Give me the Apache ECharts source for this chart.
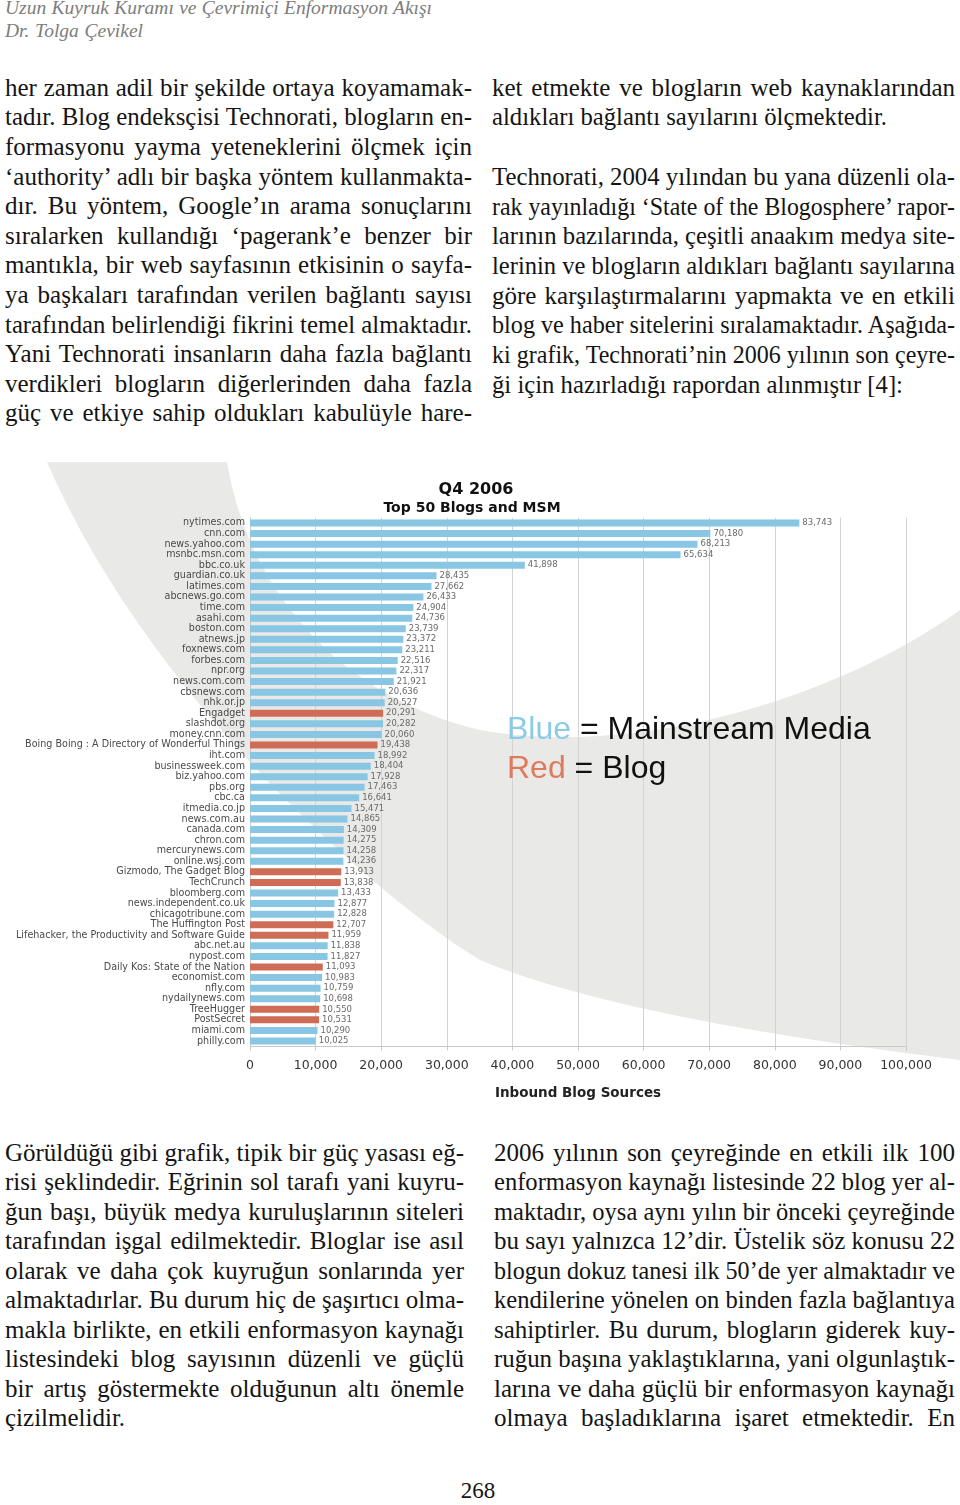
<!DOCTYPE html>
<html>
<head>
<meta charset="utf-8">
<script src="https://cdn.jsdelivr.net/npm/echarts@6/dist/echarts.min.js"></script>
<style>
  html, body { margin: 0; padding: 0; background: #fff; }
  body { width: 960px; height: 1505px; position: relative; overflow: hidden; }
  .ln { position: absolute; white-space: nowrap; display: inline-block; transform-origin: 0 0;
        font-family: "Liberation Serif", "Times New Roman", serif; color: #141414; }
  #chart { position: absolute; left: 0; top: 455px; width: 960px; height: 660px; }
</style>
</head>
<body>
<div id="chart"></div>
<script>
// ---------------- chart data ----------------
const categories = [
  "nytimes.com", "cnn.com", "news.yahoo.com", "msnbc.msn.com", "bbc.co.uk",
  "guardian.co.uk", "latimes.com", "abcnews.go.com", "time.com", "asahi.com",
  "boston.com", "atnews.jp", "foxnews.com", "forbes.com", "npr.org",
  "news.com.com", "cbsnews.com", "nhk.or.jp", "Engadget", "slashdot.org",
  "money.cnn.com", "Boing Boing : A Directory of Wonderful Things", "iht.com", "businessweek.com", "biz.yahoo.com",
  "pbs.org", "cbc.ca", "itmedia.co.jp", "news.com.au", "canada.com",
  "chron.com", "mercurynews.com", "online.wsj.com", "Gizmodo, The Gadget Blog", "TechCrunch",
  "bloomberg.com", "news.independent.co.uk", "chicagotribune.com", "The Huffington Post", "Lifehacker, the Productivity and Software Guide",
  "abc.net.au", "nypost.com", "Daily Kos: State of the Nation", "economist.com", "nfly.com",
  "nydailynews.com", "TreeHugger", "PostSecret", "miami.com", "philly.com"
];
const values = [
  83743, 70180, 68213, 65634, 41898,
  28435, 27662, 26433, 24904, 24736,
  23739, 23372, 23211, 22516, 22317,
  21921, 20636, 20527, 20291, 20282,
  20060, 19438, 18992, 18404, 17928,
  17463, 16641, 15471, 14865, 14309,
  14275, 14258, 14236, 13913, 13838,
  13433, 12877, 12828, 12707, 11959,
  11838, 11827, 11093, 10983, 10759,
  10698, 10550, 10531, 10290, 10025
];
const kinds = [
  "MSM","MSM","MSM","MSM","MSM",
  "MSM","MSM","MSM","MSM","MSM",
  "MSM","MSM","MSM","MSM","MSM",
  "MSM","MSM","MSM","Blog","MSM",
  "MSM","Blog","MSM","MSM","MSM",
  "MSM","MSM","MSM","MSM","MSM",
  "MSM","MSM","MSM","Blog","Blog",
  "MSM","MSM","MSM","Blog","Blog",
  "MSM","MSM","Blog","MSM","MSM",
  "MSM","Blog","Blog","MSM","MSM"
];
const xTicks = [0, 10000, 20000, 30000, 40000, 50000, 60000, 70000, 80000, 90000, 100000];
const chartTitle = "Q4 2006";
const chartSubtitle = "Top 50 Blogs and MSM";
const xAxisTitle = "Inbound Blog Sources";
const legendBlue = ["Blue", " = Mainstream Media"];
const legendRed = ["Red", " = Blog"];

// ---------------- page text ----------------
const headerLines = ["Uzun Kuyruk Kuramı ve Çevrimiçi Enformasyon Akışı", "Dr. Tolga Çevikel"];
const topLeft = [
  "her zaman adil bir şekilde ortaya koyamamak-",
  "tadır. Blog endeksçisi Technorati, blogların en-",
  "formasyonu yayma yeteneklerini ölçmek için",
  "‘authority’ adlı bir başka yöntem kullanmakta-",
  "dır. Bu yöntem, Google’ın arama sonuçlarını",
  "sıralarken kullandığı ‘pagerank’e benzer bir",
  "mantıkla, bir web sayfasının etkisinin o sayfa-",
  "ya başkaları tarafından verilen bağlantı sayısı",
  "tarafından belirlendiği fikrini temel almaktadır.",
  "Yani Technorati insanların daha fazla bağlantı",
  "verdikleri blogların diğerlerinden daha fazla",
  "güç ve etkiye sahip oldukları kabulüyle hare-"
];
const topRight = [
  "ket etmekte ve blogların web kaynaklarından",
  "aldıkları bağlantı sayılarını ölçmektedir.",
  "",
  "Technorati, 2004 yılından bu yana düzenli ola-",
  "rak yayınladığı ‘State of the Blogosphere’ rapor-",
  "larının bazılarında, çeşitli anaakım medya site-",
  "lerinin ve blogların aldıkları bağlantı sayılarına",
  "göre karşılaştırmalarını yapmakta ve en etkili",
  "blog ve haber sitelerini sıralamaktadır. Aşağıda-",
  "ki grafik, Technorati’nin 2006 yılının son çeyre-",
  "ği için hazırladığı rapordan alınmıştır [4]:"
];
const topRightEnds = [955, 887, 0, 955, 955, 955, 955, 955, 955, 955, 903];
const bottomLeft = [
  "Görüldüğü gibi grafik, tipik bir güç yasası eğ-",
  "risi şeklindedir. Eğrinin sol tarafı yani kuyru-",
  "ğun başı, büyük medya kuruluşlarının siteleri",
  "tarafından işgal edilmektedir. Bloglar ise asıl",
  "olarak ve daha çok kuyruğun sonlarında yer",
  "almaktadırlar. Bu durum hiç de şaşırtıcı olma-",
  "makla birlikte, en etkili enformasyon kaynağı",
  "listesindeki blog sayısının düzenli ve güçlü",
  "bir artış göstermekte olduğunun altı önemle",
  "çizilmelidir."
];
const bottomRight = [
  "2006 yılının son çeyreğinde en etkili ilk 100",
  "enformasyon kaynağı listesinde 22 blog yer al-",
  "maktadır, oysa aynı yılın bir önceki çeyreğinde",
  "bu sayı yalnızca 12’dir. Üstelik söz konusu 22",
  "blogun dokuz tanesi ilk 50’de yer almaktadır ve",
  "kendilerine yönelen on binden fazla bağlantıya",
  "sahiptirler. Bu durum, blogların giderek kuy-",
  "ruğun başına yaklaştıklarına, yani olgunlaştık-",
  "larına ve daha güçlü bir enformasyon kaynağı",
  "olmaya başladıklarına işaret etmektedir. En"
];
const pageNumber = "268";

function placeLine(text, x0, x1, yc, size, opts) {
  opts = opts || {};
  const d = document.createElement('div');
  d.className = 'ln';
  d.textContent = text;
  d.style.fontSize = size + 'px';
  d.style.lineHeight = size + 'px';
  if (opts.italic) d.style.fontStyle = 'italic';
  if (opts.color) d.style.color = opts.color;
  d.style.top = (yc - 0.61 * size) + 'px';
  d.style.left = x0 + 'px';
  document.body.appendChild(d);
  const w = d.getBoundingClientRect().width;
  if (opts.center) {
    d.style.left = (opts.center - w / 2) + 'px';
    return;
  }
  if (x1 == null) return;
  const W = x1 - x0;
  const spaces = (text.match(/ /g) || []).length;
  if (w > W || spaces === 0) {
    d.style.transform = 'scaleX(' + (W / w) + ')';
  } else {
    d.style.wordSpacing = ((W - w) / spaces) + 'px';
  }
}

const BODY = 25;
placeLine(headerLines[0], 5, 432, 10, 19.5, { italic: true, color: '#7d7d7d' });
placeLine(headerLines[1], 5, 143, 33, 19.5, { italic: true, color: '#7d7d7d' });
topLeft.forEach((t, i) => placeLine(t, 5, 472, 90 + i * 29.6, BODY));
topRight.forEach((t, i) => { if (t) placeLine(t, 492, topRightEnds[i], 90 + i * 29.7, BODY); });
bottomLeft.forEach((t, i) => {
  if (i === bottomLeft.length - 1) placeLine(t, 5, null, 1155 + i * 29.5, BODY);
  else placeLine(t, 5, 464, 1155 + i * 29.5, BODY);
});
bottomRight.forEach((t, i) => placeLine(t, 494, 955, 1155 + i * 29.5, BODY));
placeLine(pageNumber, 0, null, 1493, 23, { center: 478 });

// ---------------- background swoosh (decoration) ----------------
function bez(p0, p1, p2, p3, n) {
  const out = [];
  for (let i = 0; i <= n; i++) {
    const t = i / n, u = 1 - t;
    out.push([
      u*u*u*p0[0] + 3*u*u*t*p1[0] + 3*u*t*t*p2[0] + t*t*t*p3[0],
      u*u*u*p0[1] + 3*u*u*t*p1[1] + 3*u*t*t*p2[1] + t*t*t*p3[1]
    ]);
  }
  return out;
}
const OY = 455;
const P = (x, y) => [x, y - OY];
let swoosh = [P(47, 462)];
swoosh = swoosh.concat(bez(P(227, 462), P(250, 600), P(350, 700), P(480, 730), 30));
swoosh = swoosh.concat(bez(P(480, 730), P(650, 760), P(850, 690), P(960, 610), 30));
swoosh = swoosh.concat(bez(P(960, 1060), P(800, 1040), P(600, 1010), P(480, 960), 30));
swoosh = swoosh.concat(bez(P(480, 960), P(380, 900), P(150, 700), P(47, 462), 30));

// ---------------- chart ----------------
const BLUE = '#88c6e4';
const RED = '#cf6c56';
const fmt = v => Number(v).toLocaleString('en-US');

const chart = echarts.init(document.getElementById('chart'), null, { renderer: 'canvas' });
chart.setOption({
  backgroundColor: '#ffffff',
  animation: false,
  grid: { left: 250, right: 54, top: 62.7, bottom: 68.7, containLabel: false },
  xAxis: {
    type: 'value',
    min: xTicks[0],
    max: xTicks[xTicks.length - 1],
    interval: xTicks[1] - xTicks[0],
    axisLine: { show: true, lineStyle: { color: '#c8c8c8' } },
    axisTick: { show: true, length: 4, lineStyle: { color: '#c8c8c8' } },
    splitLine: { show: true, lineStyle: { color: '#d3d3d3', width: 1 } },
    axisLabel: { formatter: fmt, fontFamily: 'DejaVu Sans', fontSize: 12.5, color: '#333', margin: 13 },
    name: xAxisTitle,
    nameLocation: 'middle',
    nameGap: 40,
    nameTextStyle: { fontFamily: 'DejaVu Sans', fontWeight: 'bold', fontSize: 13.5, color: '#222' }
  },
  yAxis: {
    type: 'category',
    inverse: true,
    data: categories,
    axisLine: { show: true, lineStyle: { color: '#c8c8c8' } },
    axisTick: { show: false },
    axisLabel: { fontFamily: 'DejaVu Sans', fontSize: 9.6, color: '#4a4a4a', margin: 5, interval: 0 }
  },
  series: [{
    type: 'bar',
    data: values,
    barWidth: 7,
    itemStyle: { color: p => kinds[p.dataIndex] === 'Blog' ? RED : BLUE },
    label: {
      show: true, position: 'right', distance: 3,
      formatter: p => fmt(p.value),
      fontFamily: 'DejaVu Sans', fontSize: 8.5, color: '#6a6a6a'
    },
    z: 5
  }],
  graphic: [
    { type: 'polygon', z: -10, silent: true, shape: { points: swoosh }, style: { fill: '#e9e9e7' } },
    { type: 'text', z: 10, x: 476, y: 490 - OY,
      style: { text: chartTitle, font: 'bold 16px "DejaVu Sans"', fill: '#111', align: 'center', verticalAlign: 'middle' } },
    { type: 'text', z: 10, x: 472, y: 508 - OY,
      style: { text: chartSubtitle, font: 'bold 14px "DejaVu Sans"', fill: '#111', align: 'center', verticalAlign: 'middle' } },
    { type: 'text', z: 10, x: 507, y: 730 - OY,
      style: {
        text: '{c|' + legendBlue[0] + '}{k|' + legendBlue[1] + '}',
        verticalAlign: 'middle',
        rich: {
          c: { fill: '#8ccbe6', fontSize: 32, fontFamily: 'Liberation Sans' },
          k: { fill: '#111', fontSize: 32, fontFamily: 'Liberation Sans' }
        }
      } },
    { type: 'text', z: 10, x: 507, y: 769 - OY,
      style: {
        text: '{c|' + legendRed[0] + '}{k|' + legendRed[1] + '}',
        verticalAlign: 'middle',
        rich: {
          c: { fill: '#e07a5c', fontSize: 32, fontFamily: 'Liberation Sans' },
          k: { fill: '#111', fontSize: 32, fontFamily: 'Liberation Sans' }
        }
      } }
  ]
});
</script>
</body>
</html>
